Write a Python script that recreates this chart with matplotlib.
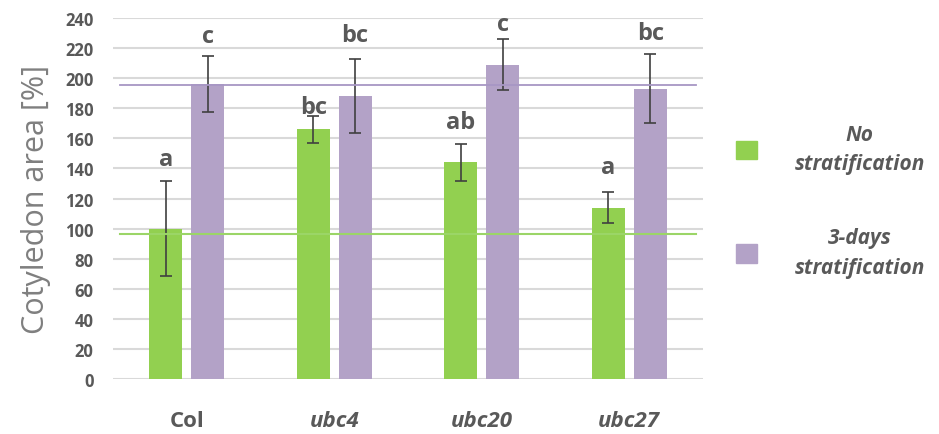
import matplotlib.pyplot as plt
import numpy as np
from matplotlib.patches import Patch

genotypes = ["Col", "ubc4", "ubc20", "ubc27"]
no_strat = [100, 166, 144, 114]
no_strat_err = [31.5, 9, 12.5, 10]
strat = [196, 188, 209, 193]
strat_err = [18.5, 24.5, 17, 23]
no_strat_letters = ["a", "bc", "ab", "a"]
strat_letters = ["c", "bc", "c", "bc"]
no_strat_label_y = [146, 181, 171, 141]
strat_label_y = [228, 229, 236, 230]
ref_no_strat = 96.5
ref_strat = 195.7
series_names = ["No\nstratification", "3-days\nstratification"]

green = "#92D050"
purple = "#B3A2C7"
grey = "#595959"

plt.rcParams['font.family'] = ['Open Sans', 'DejaVu Sans']

fig = plt.figure(figsize=(9.39, 4.35), dpi=100)
ax = fig.add_axes([0.1203, 0.1264, 0.6284, 0.8299])

x = np.arange(len(genotypes))
w = 0.224
off = 0.142

ax.bar(x - off, no_strat, w, color=green, zorder=2)
ax.bar(x + off, strat, w, color=purple, zorder=2)
ax.errorbar(x - off, no_strat, yerr=no_strat_err, fmt="none", ecolor="#404040",
            elinewidth=1.2, capsize=4, capthick=1.2, zorder=3)
ax.errorbar(x + off, strat, yerr=strat_err, fmt="none", ecolor="#404040",
            elinewidth=1.2, capsize=4, capthick=1.2, zorder=3)

for i in range(len(genotypes)):
    ax.text(x[i] - off, no_strat_label_y[i], no_strat_letters[i], ha="center", va="center",
            fontsize=17, fontweight="bold", color=grey, zorder=4)
    ax.text(x[i] + off, strat_label_y[i], strat_letters[i], ha="center", va="center",
            fontsize=17, fontweight="bold", color=grey, zorder=4)

ax.plot([-0.45, 3.45], [ref_strat, ref_strat], color="#A796C4", lw=1.3, zorder=4)
ax.plot([-0.45, 3.45], [ref_no_strat, ref_no_strat], color="#9BD567", lw=1.5, zorder=4)

ax.set_xlim(-0.5, 3.5)
ax.set_ylim(0, 240)
ax.set_yticks(range(0, 241, 20))
ax.grid(axis="y", color="#D9D9D9", lw=1.5, zorder=0)
ax.set_axisbelow(True)
for s in ax.spines.values():
    s.set_visible(False)
ax.tick_params(length=0)
ax.tick_params(axis="y", pad=14)
ax.tick_params(axis="x", pad=22)
for lab in ax.get_yticklabels():
    lab.set_fontsize(12)
    lab.set_fontweight("bold")
    lab.set_color(grey)
ax.set_xticks(x)
ax.set_xticklabels(genotypes)
for i, lab in enumerate(ax.get_xticklabels()):
    lab.set_fontsize(16)
    lab.set_fontweight("bold")
    lab.set_color(grey)
    if i > 0:
        lab.set_fontstyle("italic")
ax.set_ylabel("Cotyledon area [%]", fontsize=22, color="#7F7F7F", labelpad=10)

handles = [Patch(color=green), Patch(color=purple)]
leg = fig.legend(handles, series_names, loc="center left", bbox_to_anchor=(0.764, 0.536),
                 frameon=False, handlelength=1.0, handleheight=1.0, labelspacing=2.53,
                 handletextpad=1.8, prop={"size": 15, "weight": "bold", "style": "italic"})
for t in leg.get_texts():
    t.set_color(grey)
    t.set_multialignment("center")
    t.set_linespacing(1.55)

fig.savefig("out.png", dpi=100)
